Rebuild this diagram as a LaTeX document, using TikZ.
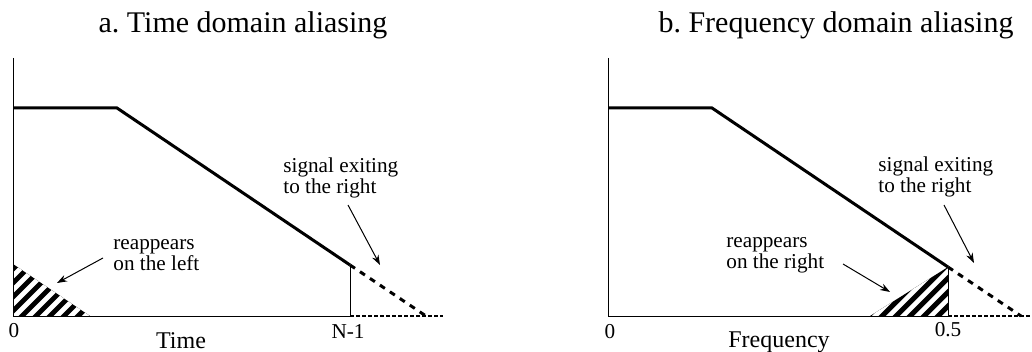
\documentclass[tikz,border=0pt]{standalone}
\usepackage{fontspec}
\setmainfont{Liberation Serif}
\usetikzlibrary{arrows.meta}

\tikzstyle{signal} = [line width=1.5pt, line join=miter]
\tikzstyle{exit} = [line width=1.5pt, dash pattern=on 3pt off 3pt]
\tikzstyle{axis} = [line width=0.5pt]
\tikzstyle{beyond} = [line width=0.8pt, dash pattern=on 2pt off 1pt]
\tikzstyle{stripe} = [white, line width=2.3pt]
\tikzstyle{note} = [align=left, anchor=west, inner sep=0pt, font=\fontsize{10.6}{9.5}\selectfont]
\tikzstyle{tick} = [inner sep=0pt, font=\fontsize{10.6}{12}\selectfont]
\tikzstyle{axislabel} = [inner sep=0pt, font=\fontsize{12}{14}\selectfont]
\tikzstyle{title} = [inner sep=0pt, font=\fontsize{15}{18}\selectfont]
\tikzstyle{pointer} = [line width=0.5pt, -{Stealth[length=5pt,width=3.5pt]}]

\begin{document}
\begin{tikzpicture}[x=0.5pt, y=-0.5pt]
\useasboundingbox (0,0) rectangle (1032,352);

% a. time domain
\coordinate (a0) at (13,316);
\coordinate (atop) at (13,58);
\coordinate (aflat) at (13,108);
\coordinate (aknee) at (117,108);
\coordinate (aend) at (350,265);
\coordinate (afoot) at (350,316);
\coordinate (aout) at (426,316);
\coordinate (aedge) at (443,316);
\coordinate (aalias) at (13,264);
\coordinate (aaliasend) at (90,316);

\begin{scope}
  \clip (aalias) -- (aaliasend) -- (a0) -- cycle;
  \fill (a0) rectangle (90,260);
  \foreach \i in {0,...,11}
    \draw[stripe] (-62+14*\i,323) -- (8+14*\i,253);
\end{scope}

\draw[axis] (atop) -- (a0) -- (afoot);
\draw[axis] (aend) -- (afoot);
\draw[beyond] (afoot) -- (aedge);
\draw[signal] (aflat) -- (aknee) -- (aend);
\draw[exit] (aend) -- (aout);

\node[title] (atitle) at (243,25) {a.\ Time domain aliasing};
\node[tick] (azero) at (14,331) {0};
\node[tick] (alast) at (348,331) {N-1};
\node[axislabel] (atime) at (181,341) {Time};
\node[note] (aexit) at (283,178) {signal exiting\\to the right};
\node[note] (aback) at (113,255) {reappears\\on the left};

\coordinate (aexittail) at (348,205);
\coordinate (aexithead) at (380,265);
\coordinate (abacktail) at (103,258);
\coordinate (abackhead) at (57,283);
\draw[pointer] (aexittail) -- (aexithead);
\draw[pointer] (abacktail) -- (abackhead);

% b. frequency domain
\coordinate (b0) at (608,316);
\coordinate (btop) at (608,58);
\coordinate (bflat) at (608,108);
\coordinate (bknee) at (712,108);
\coordinate (bend) at (948,267);
\coordinate (bfoot) at (948,316);
\coordinate (bout) at (1021,316);
\coordinate (bedge) at (1032,316);
\coordinate (balias) at (870,316);

\begin{scope}
  \clip (balias) -- (bend) -- (bfoot) -- cycle;
  \fill (balias) rectangle (950,264);
  \foreach \i in {0,...,12}
    \draw[stripe] (798+14*\i,323) -- (868+14*\i,253);
\end{scope}

\draw[axis] (btop) -- (b0) -- (bfoot);
\draw[axis] (bend) -- (bfoot);
\draw[beyond] (bfoot) -- (bedge);
\draw[signal] (bflat) -- (bknee) -- (bend);
\draw[exit] (bend) -- (bout);

\node[title] (btitle) at (836,25) {b.\ Frequency domain aliasing};
\node[tick] (bzero) at (610,332) {0};
\node[tick] (bhalf) at (948,330) {0.5};
\node[axislabel] (bfreq) at (779,342) {Frequency};
\node[note] (bexit) at (878,177) {signal exiting\\to the right};
\node[note] (bback) at (726,255) {reappears\\on the right};

\coordinate (bexittail) at (944,205);
\coordinate (bexithead) at (974,263);
\coordinate (bbacktail) at (843,264);
\coordinate (bbackhead) at (890,292);
\draw[pointer] (bexittail) -- (bexithead);
\draw[pointer] (bbacktail) -- (bbackhead);
\end{tikzpicture}
\end{document}
